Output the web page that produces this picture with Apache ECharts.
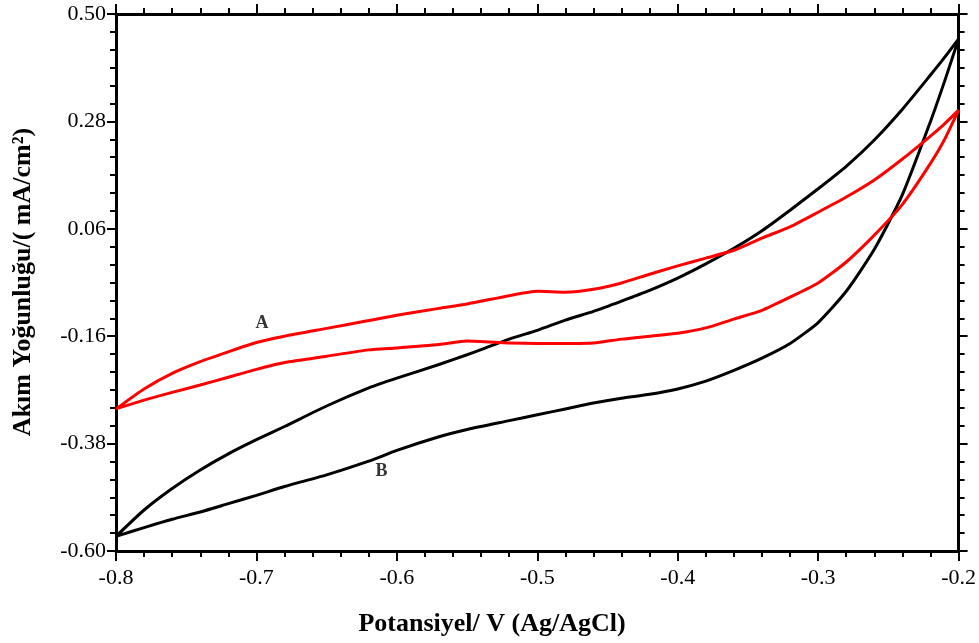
<!DOCTYPE html>
<html><head><meta charset="utf-8">
<script src="https://cdn.jsdelivr.net/npm/echarts@6/dist/echarts.min.js"></script>
<style>html,body{margin:0;padding:0;background:#fff}#c{width:979px;height:643px}</style>
</head><body><div id="c"></div>
<script>
// Potential values (V vs Ag/AgCl) shared by all branches
const potentials = [-0.80,-0.78,-0.76,-0.74,-0.72,-0.70,-0.68,-0.65,-0.62,-0.60,-0.57,-0.55,-0.52,-0.50,-0.48,-0.46,-0.44,-0.42,-0.40,-0.38,-0.36,-0.34,-0.32,-0.30,-0.28,-0.26,-0.24,-0.22,-0.21,-0.20];
// Curve A (red) current density, mA/cm2
const curveA_upper = [-0.309,-0.268,-0.236,-0.212,-0.192,-0.173,-0.160,-0.144,-0.128,-0.117,-0.103,-0.094,-0.077,-0.068,-0.070,-0.064,-0.051,-0.033,-0.016,0.000,0.016,0.041,0.064,0.094,0.125,0.160,0.203,0.250,0.275,0.303];
const curveA_lower = [-0.309,-0.291,-0.275,-0.260,-0.244,-0.228,-0.214,-0.201,-0.188,-0.184,-0.177,-0.170,-0.174,-0.175,-0.175,-0.174,-0.166,-0.160,-0.154,-0.143,-0.125,-0.107,-0.080,-0.051,-0.008,0.047,0.110,0.194,0.243,0.303];
// Curve B (black)
const curveB_upper = [-0.570,-0.516,-0.472,-0.434,-0.401,-0.372,-0.345,-0.303,-0.266,-0.246,-0.218,-0.198,-0.166,-0.148,-0.127,-0.109,-0.088,-0.066,-0.041,-0.012,0.020,0.056,0.098,0.142,0.188,0.242,0.305,0.375,0.411,0.449];
const curveB_lower = [-0.570,-0.552,-0.535,-0.520,-0.503,-0.486,-0.468,-0.444,-0.416,-0.394,-0.366,-0.351,-0.333,-0.321,-0.309,-0.297,-0.287,-0.279,-0.268,-0.252,-0.230,-0.205,-0.175,-0.132,-0.068,0.018,0.130,0.280,0.362,0.449];
// Axis settings
const xMin = -0.8, xMax = -0.2, xStep = 0.1;
const yMin = -0.60, yMax = 0.50, yStep = 0.22;
// Curve labels
const curveLabels = [["A", -0.696, -0.133], ["B", -0.611, -0.436]];
const xTitle = "Potansiyel/ V (Ag/AgCl)";
const yTitle = "Akım Yoğunluğu/( mA/cm²)";

function loop(upper, lower) {
  const d = potentials.map((x, i) => [x, upper[i]]);
  for (let i = potentials.length - 1; i >= 0; i--) d.push([potentials[i], lower[i]]);
  return d;
}

const serif = '"Liberation Serif","Times New Roman",serif';
const axisLine = {show: true, onZero: false, lineStyle: {color: '#000', width: 3}};
function xAx(pos, showLabel) {
  return {
    type: 'value', position: pos, min: xMin, max: xMax, interval: xStep,
    axisLine, splitLine: {show: false},
    axisTick: {show: true, inside: false, length: 10, lineStyle: {color: '#000', width: 2}},
    minorTick: {show: true, splitNumber: 5, length: 6, lineStyle: {color: '#000', width: 2}},
    axisLabel: {show: showLabel, margin: 16, color: '#000', fontFamily: serif, fontSize: 22,
      formatter: v => v.toFixed(1)}
  };
}
function yAx(pos, showLabel) {
  return {
    type: 'value', position: pos, min: yMin, max: yMax, interval: yStep,
    axisLine, splitLine: {show: false},
    axisTick: {show: true, inside: false, length: 9, lineStyle: {color: '#000', width: 2}},
    minorTick: {show: true, splitNumber: 6, length: 6, lineStyle: {color: '#000', width: 2}},
    axisLabel: {show: showLabel, margin: 10, color: '#000', fontFamily: serif, fontSize: 22,
      formatter: v => v.toFixed(2)}
  };
}

const chart = echarts.init(document.getElementById('c'), null, {renderer: 'canvas'});
chart.setOption({
  animation: false,
  backgroundColor: '#fff',
  grid: {left: 116, right: 19, top: 14, bottom: 92, containLabel: false},
  xAxis: [xAx('bottom', true), xAx('top', false)],
  yAxis: [yAx('left', true), yAx('right', false)],
  series: [
    {type: 'line', name: 'A', data: loop(curveA_upper, curveA_lower), showSymbol: false, symbol: 'none',
     smooth: 0.2, lineStyle: {color: '#ff0000', width: 3}, z: 3},
    {type: 'line', name: 'B', data: loop(curveB_upper, curveB_lower), showSymbol: false, symbol: 'none',
     smooth: 0.2, lineStyle: {color: '#000', width: 3}, z: 2},
    {type: 'scatter', data: curveLabels.map(l => [l[1], l[2], l[0]]), symbol: 'circle', symbolSize: 1,
     itemStyle: {color: 'rgba(0,0,0,0)'}, silent: true,
     label: {show: true, position: 'inside', formatter: p => p.data[2], color: '#000',
       fontFamily: serif, fontWeight: 'bold', fontSize: 18}, z: 4}
  ],
  graphic: [
    {type: 'text', x: 492, y: 624, style: {text: xTitle, font: 'bold 26px ' + serif, fill: '#000',
      textAlign: 'center', textVerticalAlign: 'middle'}},
    {type: 'text', x: 23, y: 282, rotation: Math.PI / 2, style: {text: yTitle, font: 'bold 26px ' + serif,
      fill: '#000', textAlign: 'center', textVerticalAlign: 'middle'}}
  ]
});
</script>
</body></html>
